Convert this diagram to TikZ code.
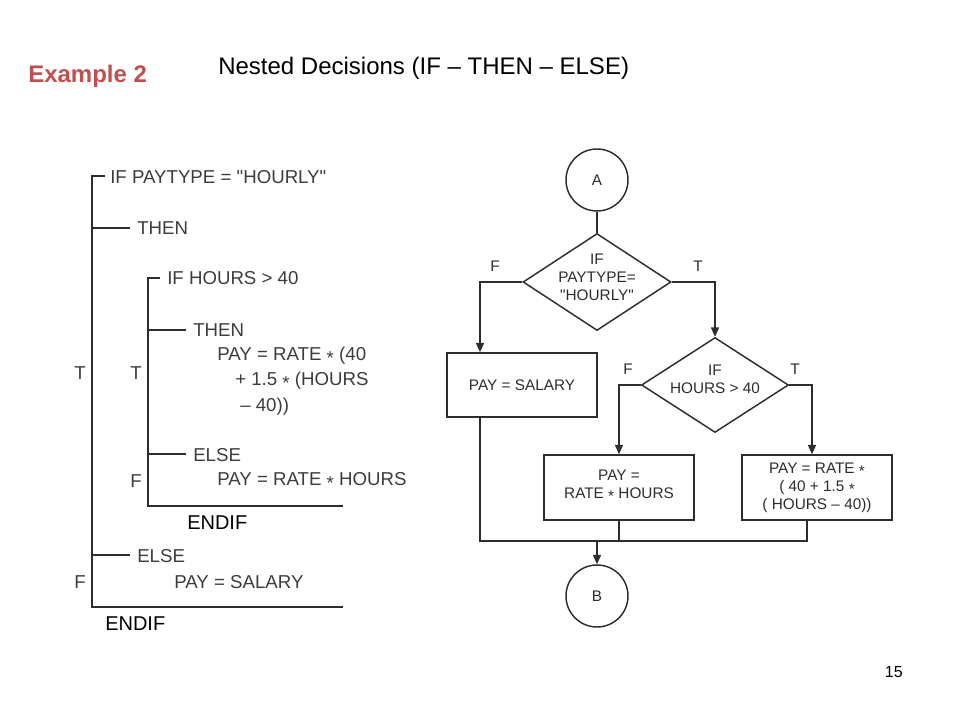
\documentclass[tikz,border=0pt]{standalone}
\usepackage{fontspec}
\setmainfont{Liberation Sans}[Ligatures=TeXOff]
\usetikzlibrary{shapes.geometric,arrows.meta,calc}
\definecolor{titlered}{RGB}{192,80,77}
\definecolor{ink}{RGB}{45,45,45}
\definecolor{scan}{RGB}{60,60,60}
\newcommand{\st}{\raisebox{-0.4ex}{*}}
\tikzset{
  lbl/.style={font=\fontsize{14}{16}\selectfont, text=scan, inner sep=0pt, anchor=west},
  tree/.style={line width=1.5pt, draw=ink},
  fc/.style={line width=1.1pt, draw=ink},
  fctext/.style={font=\fontsize{11.5}{13.5}\selectfont, text=ink, align=center, inner sep=0pt},
  conn/.style={circle, fc, minimum size=46.5pt, inner sep=0pt},
  dec/.style={diamond, fc, inner sep=0pt},
  proc/.style={rectangle, fc, inner sep=0pt},
  arr/.style={fc, -{Triangle[length=7pt,width=6pt]}},
}
\begin{document}
\begin{tikzpicture}[x=0.75pt,y=-0.75pt]
\useasboundingbox (0,0) rectangle (960,720);
% titles
\node[anchor=west, inner sep=0pt, text=titlered, font=\fontsize{18}{20}\selectfont\bfseries] (ex) at (28,76) {Example 2};
\node[anchor=west, inner sep=0pt, font=\fontsize{18}{20}\selectfont] (ttl) at (218,68) {Nested Decisions (IF – THEN – ELSE)};
\node[anchor=east, inner sep=0pt, font=\fontsize{12}{14}\selectfont] (pg) at (903,672) {15};

% ---------- left: pseudo-code tree ----------
\draw[tree] (105,176) -- (92,176) -- (92,607) -- (343,607);
\draw[tree] (92,228) -- (130,228);
\draw[tree] (92,555) -- (130,555);
\draw[tree] (160,278) -- (148,278) -- (148,506) -- (343,506);
\draw[tree] (148,330) -- (186,330);
\draw[tree] (148,454) -- (186,454);

\node[lbl] (t1) at (110,177) {IF PAYTYPE = "HOURLY"};
\node[lbl] (t2) at (137,228) {THEN};
\node[lbl] (t3) at (167,278) {IF HOURS > 40};
\node[lbl] (t4) at (193,330) {THEN};
\node[lbl] (t5) at (217,356) {PAY = RATE \st\ (40};
\node[lbl] (t6) at (235,381) {+ 1.5 \st\ (HOURS};
\node[lbl] (t7) at (240,407) {– 40))};
\node[lbl] (t8) at (193,455) {ELSE};
\node[lbl] (t9) at (217,481) {PAY = RATE \st\ HOURS};
\node[lbl] (t10) at (137,556) {ELSE};
\node[lbl] (t11) at (174,582) {PAY = SALARY};
\node[lbl] (tT1) at (74,373) {T};
\node[lbl] (tT2) at (130,373) {T};
\node[lbl] (tF2) at (130,481) {F};
\node[lbl] (tF1) at (74,582) {F};
\node[lbl, text=black, font=\fontsize{15}{17}\selectfont] (e1) at (187,523) {ENDIF};
\node[lbl, text=black, font=\fontsize{15}{17}\selectfont] (e2) at (105,624) {ENDIF};

% ---------- right: flowchart ----------
\node[conn] (A) at (597,180) {};
\node[fctext] at (A) {A};
\node[dec, minimum width=111pt, minimum height=72.75pt] (D1) at (597,282) {};
\node[fctext] (D1t) at (597,277) {IF\\PAYTYPE=\\"HOURLY"};
\node[proc, minimum width=112.5pt, minimum height=48pt] (SAL) at (522,385) {};
\node[fctext] (SALt) at (SAL) {PAY = SALARY};
\node[dec, minimum width=110.25pt, minimum height=71.25pt] (D2) at (715,385) {};
\node[fctext] (D2t) at (715,379) {IF\\HOURS > 40};
\node[proc, minimum width=112.5pt, minimum height=48.75pt] (B2) at (619,487.5) {};
\node[fctext] (B2t) at (619,486) {PAY =\\RATE \st\ HOURS};
\node[proc, minimum width=112.5pt, minimum height=48.75pt] (B3) at (817,487.5) {};
\node[fctext] (B3t) at (817,487.5) {PAY = RATE \st\\( 40 + 1.5 \st\\( HOURS – 40))};
\node[conn] (B) at (597,596) {};
\node[fctext] at (B) {B};

\node[fctext] (lF1) at (495,266) {F};
\node[fctext] (lT1) at (698,266) {T};
\node[fctext] (lF2) at (628,369) {F};
\node[fctext] (lT2) at (795,369) {T};

\coordinate (jl) at (480,541);
\coordinate (jm) at (597,541);
\coordinate (jr) at (807,541);

\draw[fc] (A) -- (D1);
\draw[arr] (D1.west) -| (SAL.north -| jl);
\draw[arr] (D1.east) -| (D2.north);
\draw[arr] (D2.west) -| (B2.north);
\draw[arr] (D2.east) -| (B3.north -| 812,0);
\draw[fc] (SAL.south -| jl) -- (jl) -- (jr) -- (B3.south -| jr);
\draw[fc] (B2.south) -- (B2.south |- jl);
\draw[arr] (jm) -- (B);
\end{tikzpicture}
\end{document}
